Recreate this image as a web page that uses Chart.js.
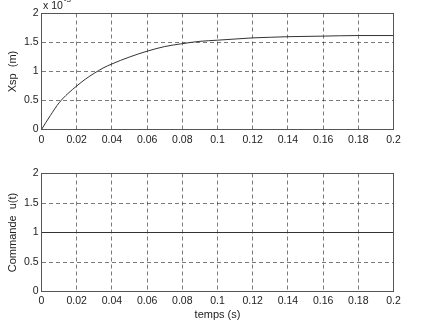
<!DOCTYPE html>
<html>
<head>
<meta charset="utf-8">
<script src="https://cdn.jsdelivr.net/npm/chart.js@4/dist/chart.umd.min.js"></script>
<style>
  html, body { margin: 0; padding: 0; background: #fff; }
  #wrap { position: relative; width: 424px; height: 323px; overflow: hidden; }
  canvas { position: absolute; left: 0; }
  #c1 { top: 0; }
  #c2 { top: 160px; }
</style>
</head>
<body>
<div id="wrap">
  <canvas id="c1" width="424" height="160"></canvas>
  <canvas id="c2" width="424" height="163"></canvas>
</div>
<script>
// ---- data ----
const time = [0, 0.005, 0.01, 0.015, 0.02, 0.025, 0.03, 0.035, 0.04, 0.05, 0.06, 0.07, 0.08, 0.09, 0.1, 0.11, 0.12, 0.13, 0.14, 0.16, 0.18, 0.2];
const xsp = [0, 0.24, 0.46, 0.62, 0.75, 0.87, 0.97, 1.06, 1.13, 1.25, 1.35, 1.43, 1.48, 1.52, 1.54, 1.56, 1.58, 1.59, 1.60, 1.61, 1.62, 1.62]; // x 10^-3 m
const uTime = [0, 0.2];
const uValues = [1, 1];
const xTicks = [0, 0.02, 0.04, 0.06, 0.08, 0.1, 0.12, 0.14, 0.16, 0.18, 0.2];
const yTicks = [0, 0.5, 1, 1.5, 2];
const xTitle = 'temps (s)';
const yTitle1 = 'Xsp  (m)';
const yTitle2 = 'Commande  u(t)';
const expBase = 'x 10';
const expPow = '-3';

const FONT = '"Liberation Sans", Arial, Helvetica, sans-serif';
const tickFont = { family: FONT, size: 10.5 };
const titleFont = { family: FONT, size: 11 };
const gridColor = 'rgba(50,50,50,0.65)';

const framePlugin = {
  id: 'frame',
  afterDraw(chart) {
    const a = chart.chartArea, ctx = chart.ctx;
    ctx.save();
    ctx.strokeStyle = '#555';
    ctx.lineWidth = 1;
    ctx.setLineDash([]);
    ctx.strokeRect(a.left, a.top, a.right - a.left, a.bottom - a.top);
    ctx.restore();
  }
};

const expPlugin = {
  id: 'exp',
  afterDraw(chart) {
    const ctx = chart.ctx;
    ctx.save();
    ctx.fillStyle = '#222';
    ctx.textBaseline = 'middle';
    ctx.textAlign = 'left';
    ctx.font = '10.5px ' + FONT;
    ctx.fillText(expBase, 43, 6);
    const w = ctx.measureText(expBase).width;
    ctx.font = '8px ' + FONT;
    ctx.textBaseline = 'alphabetic';
    ctx.fillText(expPow, 43 + w + 1, 1.5);
    ctx.restore();
  }
};

function makeOptions(yTitle, xAxisHeight, topPad, showXTitle) {
  return {
    responsive: false,
    devicePixelRatio: 1,
    animation: false,
    events: [],
    layout: { padding: { left: 0, right: 30.5, top: topPad, bottom: 0 } },
    plugins: { legend: { display: false }, tooltip: { enabled: false } },
    scales: {
      x: {
        type: 'linear',
        min: 0, max: 0.2,
        afterBuildTicks: s => { s.ticks = xTicks.map(v => ({ value: v })); },
        afterFit: s => { s.height = xAxisHeight; },
        ticks: {
          font: tickFont, color: '#222', padding: showXTitle ? 3 : 4,
          maxRotation: 0, autoSkip: false,
          callback: v => String(+v.toFixed(2))
        },
        grid: { color: gridColor, lineWidth: 1, drawTicks: false },
        border: { display: false, dash: [4, 3] },
        title: {
          display: showXTitle, text: xTitle, font: titleFont, color: '#222',
          padding: { top: 0, bottom: 1.4 }
        }
      },
      y: {
        min: 0, max: 2,
        afterBuildTicks: s => { s.ticks = yTicks.map(v => ({ value: v })); },
        afterFit: s => { s.width = 41.5; },
        ticks: {
          font: tickFont, color: '#222', padding: 3,
          callback: v => String(v)
        },
        grid: { color: gridColor, lineWidth: 1, drawTicks: false },
        border: { display: false, dash: [4, 3] },
        title: {
          display: true, text: yTitle, font: titleFont, color: '#222',
          padding: { top: 6, bottom: 0 }
        }
      }
    }
  };
}

new Chart(document.getElementById('c1'), {
  type: 'line',
  data: {
    datasets: [{
      data: time.map((t, i) => ({ x: t, y: xsp[i] })),
      borderColor: '#333', borderWidth: 1, pointRadius: 0,
      cubicInterpolationMode: 'monotone', fill: false
    }]
  },
  options: makeOptions(yTitle1, 30.5, 13.5, false),
  plugins: [framePlugin, expPlugin]
});

new Chart(document.getElementById('c2'), {
  type: 'line',
  data: {
    datasets: [{
      data: uTime.map((t, i) => ({ x: t, y: uValues[i] })),
      borderColor: '#333', borderWidth: 1, pointRadius: 0, fill: false
    }]
  },
  options: makeOptions(yTitle2, 31.5, 13.5, true),
  plugins: [framePlugin]
});
</script>
</body>
</html>
